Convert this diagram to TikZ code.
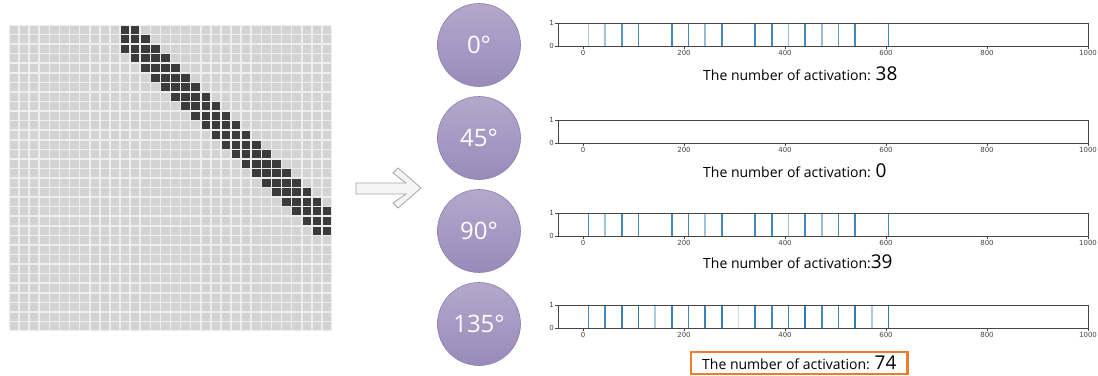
\documentclass[tikz,border=0pt]{standalone}
\usepackage{fontspec}
\setmainfont{Open Sans}
\newfontfamily\tickfont{DejaVu Sans}

\definecolor{cellgray}{HTML}{D3D3D3}
\definecolor{cellgap}{HTML}{EEEEEE}
\definecolor{celldark}{HTML}{3B3B3B}
\definecolor{disctop}{HTML}{B4A8CC}
\definecolor{discbottom}{HTML}{9A8ABA}
\definecolor{discedge}{HTML}{8C7DAB}
\definecolor{spikeblue}{HTML}{2F7DB5}
\definecolor{axisgray}{HTML}{454545}
\definecolor{markorange}{HTML}{EC7C2E}

\tikzset{
    grid cell/.style={
      fill=cellgray
    },
    dark cell/.style={
      fill=celldark
    },
    angle disc/.style={
      circle,
      minimum size=83pt,
      inner sep=0pt,
      top color=disctop,
      bottom color=discbottom,
      draw=discedge,
      line width=0.6pt,
      text=white,
      font=\fontsize{24}{24}\selectfont
    },
    plot frame/.style={
      draw=axisgray,
      line width=0.8pt
    },
    spike/.style={
      draw=spikeblue,
      line width=1.5pt
    },
    tick mark/.style={
      draw=axisgray,
      line width=0.6pt
    },
    tick label/.style={
      font=\tickfont\fontsize{7}{7}\selectfont,
      text=axisgray,
      inner sep=1pt
    },
    count label/.style={
      font=\fontsize{14}{14}\selectfont,
      anchor=west,
      inner sep=0pt
    },
    mark box/.style={
      draw=markorange,
      line width=2.4pt,
      inner xsep=11pt,
      inner ysep=4pt
    },
    block arrow/.style={
      fill=black!4,
      draw=black!35,
      line width=0.8pt,
      line join=miter
    }
  }

% 1本の活性化プロット: #1 = 上端 y, #2 = 名前, #3 = k/濃さ
\newcommand{\actplot}[3]{%
  \begin{scope}[shift={(0,#1)}]
    \foreach \k/\op in {#3}
      \draw[spike, draw opacity=\op] ({583+0.505*(11+33*\k)},0.5) -- ++(0,22);
    \draw[plot frame] (558,0) rectangle (1088,23);
    \foreach \v in {0,200,...,1000} {
      \draw[tick mark] ({583+0.505*\v},23) -- ++(0,3);
      \node[tick label, anchor=north] (#2-x\v) at ({583+0.505*\v},26) {\v};
    }
    \draw[tick mark] (558,0) -- ++(-3,0);
    \draw[tick mark] (558,23) -- ++(-3,0);
    \node[tick label, anchor=east] (#2-y1) at (555,0) {1};
    \node[tick label, anchor=east] (#2-y0) at (555,23) {0};
  \end{scope}
}
\newcommand{\bignum}[1]{\fontsize{19}{19}\selectfont #1}

\begin{document}
\begin{tikzpicture}[x=1pt,y=-1pt]
      \useasboundingbox[fill=white] (0,0) rectangle (1098,375);

      % 入力グリッド
      \fill[cellgap] (9,25) rectangle (332,331);
      \foreach \r in {0,...,31}
        \foreach \c in {0,...,31}
          \fill[grid cell] ({9.8+\c*10.094},{25.8+\r*9.5625}) rectangle ++(8.5,7.96);
      \foreach \r in {0,...,21} {
        \pgfmathtruncatemacro\cfrom{max(11,\r+9)}
        \pgfmathtruncatemacro\cto{min(31,\r+12)}
        \foreach \c in {\cfrom,...,\cto}
          \fill[dark cell] ({9.8+\c*10.094},{25.8+\r*9.5625}) rectangle ++(8.5,7.96);
      }

      % 矢印
      \draw[block arrow] (356,183) -- (406,183) -- (393,173) -- (398,168) -- (421,188)
        -- (398,208) -- (393,203) -- (406,194) -- (356,194) -- cycle;

      % 方向
      \node[angle disc] (deg0) at (479,45) {0°};
      \node[angle disc] (deg45) at (479,138) {45°};
      \node[angle disc] (deg90) at (479,231) {90°};
      \node[angle disc] (deg135) at (479,324) {135°};

      % プロット
      \actplot{23}{pa}{0/0.4,1/0.45,2/0.8,3/0.9,5/0.9,6/0.9,7/0.5,8/0.9,10/0.9,11/0.9,12/0.5,13/0.9,14/0.5,15/0.75,16/0.9,18/0.9}
      \actplot{120}{pb}{}
      \actplot{213}{pc}{0/0.9,1/0.45,2/0.9,3/0.9,5/0.9,6/0.9,7/0.45,8/0.9,10/0.9,11/0.9,12/0.45,13/0.9,14/0.5,15/0.9,16/0.9,18/0.9}
      \actplot{305}{pd}{0/0.9,1/0.9,2/0.95,3/1,4/0.4,5/0.95,6/0.9,7/0.95,8/1,9/0.25,10/0.95,11/0.9,12/0.95,13/1,14/0.9,15/0.95,16/1,17/0.4,18/1}

      % ラベル
      \node[count label] (counta) at (703,74) {The number of activation: \bignum{38}};
      \node[count label] (countb) at (703,171) {The number of activation: \bignum{0}};
      \node[count label] (countc) at (703,262) {The number of activation:\bignum{39}};
      \node[count label, mark box] (countd) at (690,363) {The number of activation: \bignum{74}};
    \end{tikzpicture}
\end{document}
